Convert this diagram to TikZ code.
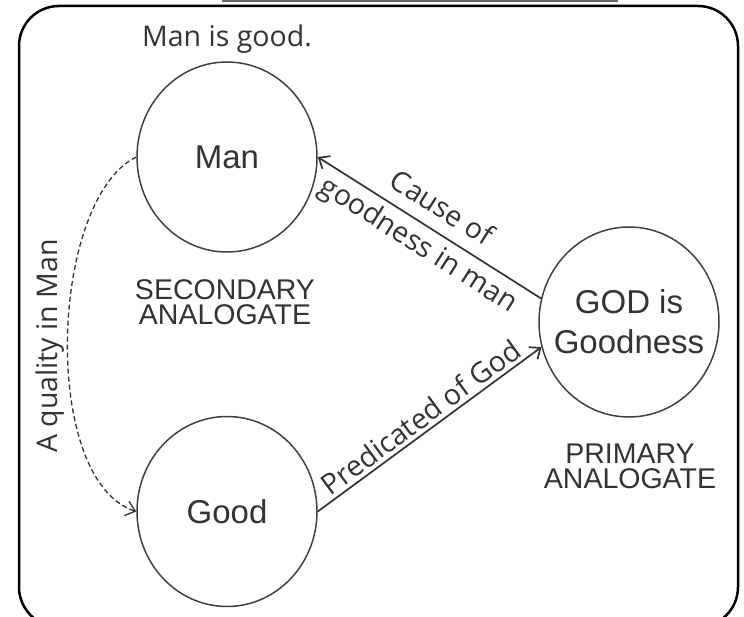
\documentclass[tikz,border=0pt]{standalone}
\usepackage{fontspec}
\setmainfont{Liberation Sans}
\newfontfamily\notefont{Open Sans}
\usetikzlibrary{arrows.meta}
\usetikzlibrary{positioning}
\usetikzlibrary{shapes.geometric}

\begin{document}
\begin{tikzpicture}[x=1pt, y=-1pt,
        concept/.style={draw=black!75, line width=1.5pt, ellipse, minimum width=180pt,
            minimum height=190pt, inner xsep=-18pt, inner ysep=0pt, text=black!80,
            align=center, font=\fontsize{33}{40}\selectfont},
        rank/.style={text=black!80, align=center, font=\fontsize{28.5}{25}\selectfont},
        note/.style={text=black!80, font=\notefont\fontsize{28.5}{34}\selectfont},
        link/.style={draw=black!80, line width=1.7pt, -{Straight Barb[length=9pt, width=15pt]}}]

            \useasboundingbox (0,0) rectangle (744,617);
            \clip (0,0) rectangle (744,617);

            % frame
            \draw[line width=2.5pt, rounded corners=40pt] (19,6) rectangle (738,627);
            \draw[line width=2.5pt, black!60] (222,1) -- (618,1);

            \node[concept] (man)                      at (227,157) {Man};
            \node[concept] (good) [below = 163pt of man]           {Good};
            \node[concept] (god)                      at (629,322) {GOD is\\Goodness};

            \node[rank] (secondary) at (225,302) {SECONDARY\\ANALOGATE};
            \node[rank] (primary)   at (630,466) {PRIMARY\\ANALOGATE};

            \node[note, anchor=base] (claim)   at (227,47)  {Man is good.};
            \node[note, rotate=90]   (quality) at (50,346)  {A quality in Man};

            \draw[link] (god.165) --
                node[note, sloped, above=9pt] {Cause of}
                node[note, sloped, below=3pt] {goodness in man} (man.east);
            \draw[link] (good.east) --
                node[note, sloped, above] {Predicated of God} (god.196);
            \draw[link, line width=1.3pt, dash pattern=on 5pt off 3pt]
                (man.west) .. controls +(-87,43) and +(-96,-31) .. (good.west);

        \end{tikzpicture}
\end{document}
